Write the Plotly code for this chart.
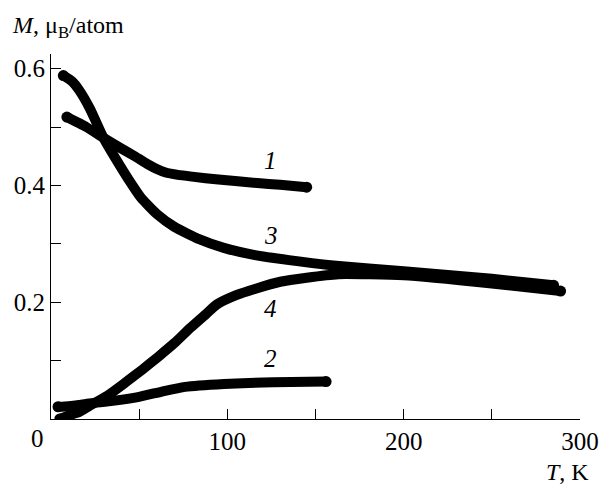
import plotly.graph_objects as go

# Curve 1
T1 = [9, 20, 30, 40, 48, 55, 60, 65, 72, 80, 95, 117, 130, 145]
M1 = [0.517, 0.500, 0.481, 0.463, 0.449, 0.436, 0.428, 0.422, 0.418, 0.415, 0.410, 0.404, 0.401, 0.397]
# Curve 2
T2 = [4, 10, 16, 23, 35, 50, 63, 76, 98, 126, 156]
M2 = [0.021, 0.022, 0.024, 0.027, 0.031, 0.038, 0.047, 0.055, 0.060, 0.063, 0.064]
# Curve 3
T3 = [7, 12, 16, 22, 30, 37, 44, 51, 60, 70, 84, 98, 115, 135, 160, 200, 250, 285]
M3 = [0.588, 0.578, 0.563, 0.532, 0.480, 0.444, 0.410, 0.379, 0.351, 0.329, 0.308, 0.293, 0.281, 0.272, 0.263, 0.253, 0.240, 0.229]
# Curve 4
T4 = [5, 10, 16, 22, 32, 42, 52, 61, 70, 79, 88, 94, 105, 117, 130, 145, 163, 200, 250, 289]
M4 = [0.000, 0.006, 0.012, 0.023, 0.040, 0.062, 0.085, 0.107, 0.130, 0.156, 0.180, 0.196, 0.212, 0.224, 0.235, 0.242, 0.248, 0.246, 0.232, 0.219]

curves = [(T1, M1), (T2, M2), (T3, M3), (T4, M4)]
labels = ["1", "2", "3", "4"]
label_pos = [(124.5, 0.442), (124.5, 0.104), (124.5, 0.315), (124.5, 0.190)]

x_tickvals = [0, 50, 100, 150, 200, 250, 300]
x_ticktext = ["", "", "100", "", "200", "", "300"]
y_tickvals = [0.1, 0.2, 0.3, 0.4, 0.5, 0.6]
y_ticktext = ["", "0.2", "", "0.4", "", "0.6"]

FONT = "Liberation Serif"

fig = go.Figure()
for T, M in curves:
    fig.add_trace(go.Scatter(x=T, y=M, mode="lines",
                             line=dict(color="black", width=10, shape="spline", smoothing=0.5),
                             hoverinfo="skip", showlegend=False))
    fig.add_trace(go.Scatter(x=[T[0], T[-1]], y=[M[0], M[-1]], mode="markers",
                             marker=dict(color="black", size=11),
                             hoverinfo="skip", showlegend=False))

for lab, (lx, ly) in zip(labels, label_pos):
    fig.add_annotation(x=lx, y=ly, xref="x", yref="y", text=f"<i>{lab}</i>",
                       showarrow=False, font=dict(family=FONT, size=25, color="black"))

fig.add_annotation(x=0, y=0, xref="x", yref="y", text="0", showarrow=False,
                   xshift=-13.5, yshift=-19, font=dict(family=FONT, size=25, color="black"))
fig.add_annotation(x=-0.078, y=1.075, xref="paper", yref="paper",
                   text="<i>M</i>, μ<sub>B</sub>/atom", showarrow=False,
                   xanchor="left", yanchor="middle",
                   font=dict(family=FONT, size=24, color="black"))
fig.add_annotation(x=1.02, y=-0.145, xref="paper", yref="paper",
                   text="<i>T</i>, K", showarrow=False,
                   xanchor="right", yanchor="middle",
                   font=dict(family=FONT, size=24, color="black"))

fig.update_xaxes(range=[0, 300], showline=True, linecolor="black", linewidth=1,
                 ticks="inside", ticklen=10, tickcolor="black", tickwidth=1,
                 tickvals=x_tickvals, ticktext=x_ticktext, showgrid=False, zeroline=False,
                 tickfont=dict(family=FONT, size=25, color="black"))
fig.update_yaxes(range=[0, 0.625], showline=True, linecolor="black", linewidth=1,
                 ticks="inside", ticklen=10, tickcolor="black", tickwidth=1,
                 tickvals=y_tickvals, ticktext=y_ticktext, showgrid=False, zeroline=False,
                 tickfont=dict(family=FONT, size=25, color="black"))

fig.update_layout(width=611, height=489, margin=dict(l=51, r=24, t=54, b=70),
                  plot_bgcolor="white", paper_bgcolor="white",
                  font=dict(family=FONT, color="black"))

fig.write_html("out.html")
